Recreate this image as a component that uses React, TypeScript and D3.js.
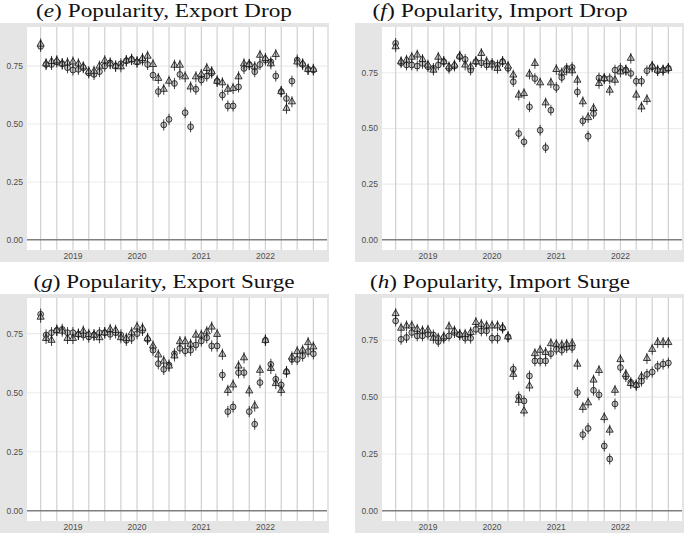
import { useEffect, useRef } from "react";
import * as d3 from "d3";

// monthly observations, Jul 2018 .. Oct 2022
const months = d3.timeMonth.range(new Date(2018, 6, 1), new Date(2022, 10, 1));
const yearTicks = [2019, 2020, 2021, 2022];
const yTicks = [0, 0.25, 0.5, 0.75];

const exportDropTri = [0.845,0.76,0.77,0.773,0.76,0.764,0.768,0.76,0.747,0.726,0.728,0.75,0.773,0.76,0.75,0.747,0.773,0.779,0.768,0.783,0.793,0.757,0.697,0.65,0.685,0.754,0.754,0.704,0.66,0.704,0.714,0.74,0.726,0.685,0.678,0.65,0.654,0.704,0.76,0.757,0.747,0.797,0.783,0.76,0.8,0.64,0.568,0.596,0.768,0.76,0.736,0.736];
const exportDropCir = [0.835,0.757,0.757,0.768,0.76,0.743,0.733,0.736,0.743,0.72,0.714,0.726,0.75,0.764,0.75,0.76,0.773,0.779,0.768,0.776,0.757,0.711,0.64,0.496,0.52,0.675,0.714,0.549,0.488,0.65,0.69,0.707,0.72,0.685,0.625,0.578,0.578,0.66,0.74,0.757,0.726,0.757,0.776,0.768,0.707,0.64,0.61,0.685,0.776,0.757,0.736,0.733];

const importDropTri = [0.867,0.8,0.807,0.82,0.83,0.81,0.785,0.762,0.82,0.8,0.777,0.785,0.825,0.785,0.777,0.8,0.837,0.8,0.785,0.77,0.8,0.78,0.74,0.65,0.657,0.744,0.792,0.705,0.615,0.705,0.765,0.75,0.762,0.759,0.717,0.62,0.549,0.59,0.702,0.724,0.672,0.717,0.754,0.762,0.815,0.65,0.597,0.63,0.78,0.762,0.762,0.77];
const importDropCir = [0.882,0.795,0.785,0.785,0.78,0.792,0.777,0.77,0.785,0.8,0.77,0.78,0.822,0.81,0.762,0.8,0.795,0.785,0.792,0.785,0.8,0.77,0.71,0.477,0.44,0.597,0.724,0.492,0.414,0.582,0.684,0.729,0.77,0.774,0.664,0.534,0.465,0.567,0.727,0.724,0.724,0.762,0.77,0.762,0.747,0.712,0.712,0.759,0.777,0.759,0.762,0.77];

const exportSurgeTri = [0.82,0.73,0.722,0.764,0.761,0.73,0.73,0.747,0.761,0.747,0.744,0.733,0.754,0.768,0.764,0.733,0.73,0.754,0.778,0.773,0.73,0.698,0.66,0.634,0.613,0.656,0.716,0.716,0.705,0.744,0.744,0.758,0.778,0.747,0.663,0.51,0.533,0.613,0.648,0.508,0.444,0.595,0.722,0.603,0.539,0.51,0.589,0.651,0.674,0.68,0.712,0.694];
const exportSurgeCir = [0.832,0.744,0.754,0.764,0.768,0.754,0.754,0.747,0.744,0.736,0.744,0.754,0.754,0.747,0.754,0.744,0.722,0.73,0.75,0.764,0.726,0.68,0.623,0.599,0.617,0.665,0.688,0.677,0.68,0.702,0.719,0.733,0.698,0.698,0.575,0.42,0.44,0.585,0.585,0.42,0.367,0.543,0.722,0.62,0.557,0.533,0.589,0.641,0.641,0.656,0.674,0.665];

const importSurgeTri = [0.867,0.803,0.813,0.813,0.798,0.791,0.794,0.759,0.759,0.765,0.809,0.791,0.776,0.776,0.784,0.828,0.82,0.813,0.813,0.813,0.806,0.765,0.6,0.486,0.439,0.549,0.691,0.706,0.696,0.735,0.732,0.729,0.732,0.735,0.645,0.455,0.475,0.575,0.617,0.41,0.355,0.53,0.665,0.6,0.56,0.553,0.59,0.67,0.71,0.74,0.74,0.74];
const importSurgeCir = [0.835,0.754,0.762,0.784,0.769,0.769,0.776,0.773,0.744,0.759,0.769,0.784,0.773,0.759,0.759,0.798,0.791,0.791,0.759,0.759,0.803,0.765,0.623,0.501,0.483,0.593,0.659,0.659,0.659,0.691,0.71,0.706,0.718,0.718,0.52,0.335,0.362,0.53,0.51,0.285,0.228,0.47,0.63,0.59,0.565,0.553,0.57,0.6,0.61,0.635,0.645,0.65];

const panelLetters = ["e", "f", "g", "h"];
const panelTitles = [
  "Popularity, Export Drop",
  "Popularity, Import Drop",
  "Popularity, Export Surge",
  "Popularity, Import Surge",
];
const panelTri = [exportDropTri, importDropTri, exportSurgeTri, importSurgeTri];
const panelCir = [exportDropCir, importDropCir, exportSurgeCir, importSurgeCir];
// upper end of the data incl. error bars, per panel
const panelTop = [0.875, 0.91, 0.858, 0.891];
const errHalf = 0.024;

const W = 685;
const H = 533;

export default function App() {
  const svgRef = useRef<SVGSVGElement>(null);

  useEffect(() => {
    if (!svgRef.current) return;
    const svg = d3.select(svgRef.current);
    svg.selectAll("*").remove();

    const colX = [0, 355];
    const rowY = [0, 271];
    const titleCx = [164, 145];
    const titleW = [256, 255, 261, 260];
    const bg = { x0: 0, x1: 329, y0: 23, y1: 262 };
    const pn = { x0: 27, x1: 327, y0: 27, y1: 250 };

    const first = months[0];
    const last = months[months.length - 1];
    const span = +last - +first;
    const x = d3
      .scaleTime()
      .domain([new Date(+first - span * 0.05), new Date(+last + span * 0.05)])
      .range([pn.x0, pn.x1]);
    const quarters = d3.timeMonth.every(3)!.range(first, new Date(2022, 10, 1));

    panelTitles.forEach((title, p) => {
      const col = p % 2;
      const row = Math.floor(p / 2);
      const g = svg
        .append("g")
        .attr("transform", `translate(${colX[col]},${rowY[row]})`);

      const M = panelTop[p];
      const y = d3
        .scaleLinear()
        .domain([-0.05 * M, 1.05 * M])
        .range([pn.y1, pn.y0]);

      // title
      const t = g
        .append("text")
        .attr("x", titleCx[col])
        .attr("y", 17)
        .attr("text-anchor", "middle")
        .attr("font-family", "'Liberation Serif', 'Times New Roman', serif")
        .attr("font-size", 19)
        .attr("textLength", titleW[p])
        .attr("lengthAdjust", "spacingAndGlyphs")
        .attr("fill", "#111");
      t.append("tspan").text("(");
      t.append("tspan").attr("font-style", "italic").text(panelLetters[p]);
      t.append("tspan").text(") " + title);

      g.append("rect")
        .attr("x", bg.x0)
        .attr("y", bg.y0)
        .attr("width", bg.x1 - bg.x0)
        .attr("height", bg.y1 - bg.y0)
        .attr("fill", "#e5e5e5");
      g.append("rect")
        .attr("x", pn.x0)
        .attr("y", pn.y0)
        .attr("width", pn.x1 - pn.x0)
        .attr("height", pn.y1 - pn.y0)
        .attr("fill", "#ffffff");

      // horizontal grid
      g.selectAll("line.hgrid")
        .data(yTicks.filter((v) => v > 0))
        .join("line")
        .attr("x1", pn.x0)
        .attr("x2", pn.x1)
        .attr("y1", (d) => y(d))
        .attr("y2", (d) => y(d))
        .attr("stroke", "#ebebeb")
        .attr("stroke-width", 1.1);

      // quarterly vertical lines
      g.selectAll("line.vgrid")
        .data(quarters)
        .join("line")
        .attr("x1", (d) => x(d))
        .attr("x2", (d) => x(d))
        .attr("y1", pn.y0)
        .attr("y2", pn.y1)
        .attr("stroke", "#d0d0d0")
        .attr("stroke-width", 1.2);

      // zero line
      g.append("line")
        .attr("x1", pn.x0)
        .attr("x2", pn.x1)
        .attr("y1", y(0))
        .attr("y2", y(0))
        .attr("stroke", "#7f7f7f")
        .attr("stroke-width", 1.5);

      // y tick labels
      g.selectAll("text.ylab")
        .data(yTicks)
        .join("text")
        .attr("x", pn.x0 - 4)
        .attr("y", (d) => y(d))
        .attr("dy", "0.35em")
        .attr("text-anchor", "end")
        .attr("font-family", "'Liberation Sans', Arial, sans-serif")
        .attr("font-size", 8.5)
        .attr("fill", "#4d4d4d")
        .text((d) => d3.format(".2f")(d));

      // x tick labels
      g.selectAll("text.xlab")
        .data(yearTicks)
        .join("text")
        .attr("x", (d) => x(new Date(d, 0, 1)))
        .attr("y", pn.y1 + 9)
        .attr("text-anchor", "middle")
        .attr("font-family", "'Liberation Sans', Arial, sans-serif")
        .attr("font-size", 8.5)
        .attr("fill", "#4d4d4d")
        .text((d) => String(d));

      const tri = panelTri[p];
      const cir = panelCir[p];
      const triPath = d3.symbol().type(d3.symbolTriangle).size(22)()!;

      g.selectAll("circle.pt")
        .data(cir)
        .join("circle")
        .attr("cx", (_, i) => x(months[i]))
        .attr("cy", (d) => y(d))
        .attr("r", 2.9)
        .attr("fill", "#c8c8c8")
        .attr("stroke", "#111")
        .attr("stroke-width", 0.8);

      g.selectAll("path.tri")
        .data(tri)
        .join("path")
        .attr("d", triPath)
        .attr("transform", (d, i) => `translate(${x(months[i])},${y(d)})`)
        .attr("fill", "#c8c8c8")
        .attr("stroke", "#111")
        .attr("stroke-width", 0.8);

      const bars = [...cir.map((v, i) => ({ v, i })), ...tri.map((v, i) => ({ v, i }))];
      g.selectAll("line.err")
        .data(bars)
        .join("line")
        .attr("x1", (d) => x(months[d.i]))
        .attr("x2", (d) => x(months[d.i]))
        .attr("y1", (d) => y(d.v - errHalf))
        .attr("y2", (d) => y(d.v + errHalf))
        .attr("stroke", "#111")
        .attr("stroke-width", 0.8);
    });
  }, []);

  return (
    <svg
      ref={svgRef}
      width={W}
      height={H}
      style={{ position: "absolute", left: 0, top: 0, background: "#fff" }}
    />
  );
}
